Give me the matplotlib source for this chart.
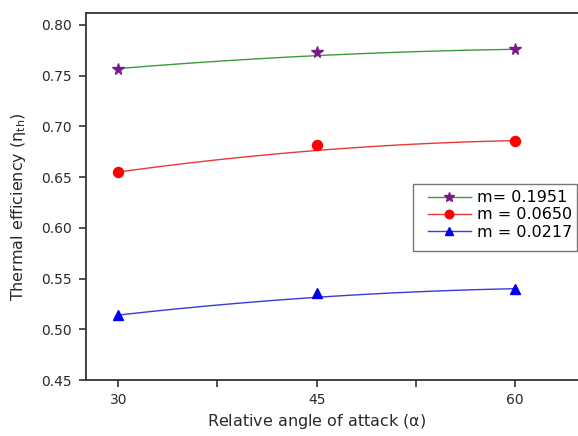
import numpy as np
import matplotlib
matplotlib.use("Agg")
import matplotlib.pyplot as plt
from matplotlib.ticker import FixedLocator
from matplotlib.patches import Rectangle

plt.rcParams['font.family'] = ['DejaVu Sans']
plt.rcParams['mathtext.default'] = 'regular'

angles = [30, 45, 60]
eff_m01951 = [0.757, 0.773, 0.776]
eff_m00650 = [0.655, 0.682, 0.686]
eff_m00217 = [0.514, 0.536, 0.540]
labels = ["m= 0.1951", "m = 0.0650", "m = 0.0217"]
xticks = [30, 45, 60]
yticks = [0.45, 0.50, 0.55, 0.60, 0.65, 0.70, 0.75, 0.80]


def bspline(xs, ys, n=100):
    # quadratic B-spline (Bezier) with the data points as control points, as drawn by Origin
    t = np.linspace(0, 1, n)
    x0, x1, x2 = xs
    y0, y1, y2 = ys
    bx = (1 - t) ** 2 * x0 + 2 * (1 - t) * t * x1 + t ** 2 * x2
    by = (1 - t) ** 2 * y0 + 2 * (1 - t) * t * y1 + t ** 2 * y2
    return bx, by


fig = plt.figure(figsize=(5.78, 4.36), dpi=100)
ax = fig.add_axes([86 / 578, 1 - 380 / 436, 1 - 86 / 578, (380 - 13.3) / 436])

series = [
    (eff_m01951, '#3c9a3c', '*', '#7a1a8a', 8.5),
    (eff_m00650, '#e8383a', 'o', '#ff0000', 7.2),
    (eff_m00217, '#3a3ad8', '^', '#0000ee', 7.5),
]
for (vals, lc, mk, mc, ms), lab in zip(series, labels):
    bx, by = bspline(angles, vals)
    ax.plot(bx, by, color=lc, lw=1.0, zorder=2)
    ax.plot(angles, vals, linestyle='none', marker=mk, color=mc, ms=ms, zorder=3)
    ax.plot([], [], color=lc, lw=1.0, marker=mk, mfc=mc, mec=mc, ms=ms * 0.85, label=lab)

ax.set_xlim(27.56, 64.77)
ax.set_ylim(0.45, 0.8115)
ax.set_xticks(xticks)
ax.xaxis.set_minor_locator(FixedLocator([37.5, 52.5]))
ax.set_yticks(yticks)
ax.set_yticklabels([f"{v:.2f}" for v in yticks])

txtc = '#2a2a2a'
ax.tick_params(axis='both', which='both', direction='out', length=5, width=1.2,
               colors='#333333', labelsize=10, labelcolor=txtc)
ax.tick_params(axis='x', which='major', pad=4.5)
ax.tick_params(axis='y', which='major', pad=5.5)
ax.spines['right'].set_visible(False)
for s in ['left', 'bottom', 'top']:
    ax.spines[s].set_linewidth(1.3)
    ax.spines[s].set_color('#333333')

ax.set_xlabel(r"Relative angle of attack ($\alpha$)", fontsize=11.5, color=txtc)
ax.set_ylabel(r"Thermal efficiency ($\eta_{th}$)", fontsize=11.5, color=txtc)
ax.xaxis.set_label_coords(0.4695, -0.0873)
ax.yaxis.set_label_coords(-0.118, 0.4718)

# legend frame
ax.add_patch(Rectangle((0.6652, 0.3518), 0.333, 0.1827, transform=ax.transAxes,
                       facecolor='white', edgecolor='#777777', lw=1.0, zorder=4,
                       clip_on=False))
leg = ax.legend(loc='upper left', bbox_to_anchor=(0.6815, 0.5345), fontsize=11.5,
                frameon=False, handlelength=2.7, handletextpad=0.375, labelspacing=0.13,
                borderpad=0.4, borderaxespad=0)
leg.set_zorder(5)

fig.savefig("out.png", dpi=100)
